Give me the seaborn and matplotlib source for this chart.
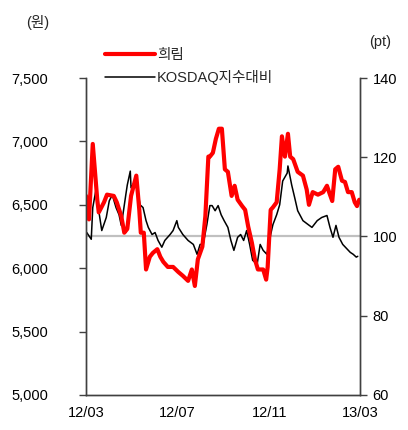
import pandas as pd
import matplotlib.pyplot as plt
import matplotlib.dates as mdates
from matplotlib.ticker import FuncFormatter
from matplotlib.lines import Line2D
import seaborn as sns

# 희림 share price (won)
heerim_dates = ['2012-03-01', '2012-03-05', '2012-03-10', '2012-03-16', '2012-03-18', '2012-03-25',
                '2012-03-29', '2012-04-07', '2012-04-11', '2012-04-17', '2012-04-21', '2012-04-25',
                '2012-04-30', '2012-05-07', '2012-05-11', '2012-05-13', '2012-05-17', '2012-05-20',
                '2012-05-25', '2012-05-29', '2012-06-04', '2012-06-08', '2012-06-12', '2012-06-18',
                '2012-06-25', '2012-07-02', '2012-07-08', '2012-07-15', '2012-07-20', '2012-07-24',
                '2012-07-28', '2012-08-03', '2012-08-07', '2012-08-11', '2012-08-13', '2012-08-17',
                '2012-08-21', '2012-08-25', '2012-08-29', '2012-09-02', '2012-09-06', '2012-09-11',
                '2012-09-15', '2012-09-19', '2012-09-25', '2012-09-29', '2012-10-03', '2012-10-08',
                '2012-10-12', '2012-10-16', '2012-10-23', '2012-10-27', '2012-10-29', '2012-11-02',
                '2012-11-05', '2012-11-10', '2012-11-14', '2012-11-17', '2012-11-21', '2012-11-25',
                '2012-11-28', '2012-12-02', '2012-12-08', '2012-12-15', '2012-12-20', '2012-12-23',
                '2012-12-28', '2013-01-04', '2013-01-11', '2013-01-16', '2013-01-20', '2013-01-23',
                '2013-01-27', '2013-01-31', '2013-02-05', '2013-02-09', '2013-02-13', '2013-02-18',
                '2013-02-22', '2013-02-25', '2013-02-28']
heerim_price = [6570, 6385, 6980, 6540, 6440, 6520, 6580, 6570, 6520, 6410, 6280, 6310,
                6570, 6730, 6460, 6280, 6280, 5990, 6090, 6120, 6150, 6090, 6050, 6010,
                6010, 5970, 5940, 5900, 5990, 5860, 6070, 6170, 6410, 6880, 6880, 6910,
                7020, 7100, 7100, 6780, 6760, 6570, 6650, 6540, 6490, 6460, 6330, 6200,
                6070, 5990, 5990, 5910, 6010, 6460, 6480, 6520, 6780, 7040, 6880, 7060,
                6880, 6860, 6760, 6730, 6620, 6500, 6600, 6580, 6600, 6650, 6580, 6530,
                6780, 6800, 6690, 6680, 6600, 6600, 6520, 6490, 6540]

# relative to KOSDAQ index (pt)
kosdaq_dates = ['2012-03-02', '2012-03-08', '2012-03-10', '2012-03-14', '2012-03-18', '2012-03-22',
                '2012-03-28', '2012-04-01', '2012-04-05', '2012-04-10', '2012-04-14', '2012-04-17',
                '2012-04-18', '2012-04-23', '2012-04-25', '2012-04-29', '2012-04-30', '2012-05-04',
                '2012-05-08', '2012-05-12', '2012-05-16', '2012-05-20', '2012-05-23', '2012-05-28',
                '2012-06-01', '2012-06-05', '2012-06-10', '2012-06-14', '2012-06-21', '2012-06-25',
                '2012-06-30', '2012-07-02', '2012-07-08', '2012-07-15', '2012-07-22', '2012-07-27',
                '2012-07-31', '2012-08-04', '2012-08-09', '2012-08-13', '2012-08-16', '2012-08-20',
                '2012-08-24', '2012-08-28', '2012-09-01', '2012-09-06', '2012-09-10', '2012-09-14',
                '2012-09-19', '2012-09-23', '2012-09-27', '2012-10-01', '2012-10-05', '2012-10-09',
                '2012-10-15', '2012-10-19', '2012-10-23', '2012-10-28', '2012-11-02', '2012-11-05',
                '2012-11-10', '2012-11-14', '2012-11-18', '2012-11-24', '2012-11-25', '2012-11-30',
                '2012-12-04', '2012-12-08', '2012-12-15', '2012-12-22', '2012-12-27', '2013-01-03',
                '2013-01-09', '2013-01-16', '2013-01-20', '2013-01-24', '2013-01-28', '2013-02-01',
                '2013-02-06', '2013-02-12', '2013-02-16', '2013-02-20', '2013-02-24', '2013-02-26']
kosdaq_rel = [101.0, 99.3, 107.3, 111.5, 106.5, 101.5, 104.8, 109.0, 110.5, 107.3, 105.5, 102.8,
              104.0, 110.5, 113.0, 116.5, 112.3, 113.5, 112.8, 108.0, 107.3, 104.0, 102.3, 100.5,
              101.0, 99.0, 97.3, 99.0, 100.5, 101.5, 104.0, 102.3, 100.5, 99.0, 98.0, 95.5,
              98.0, 98.0, 103.0, 107.8, 107.8, 106.5, 107.8, 105.5, 104.0, 102.3, 99.0, 96.5,
              99.8, 100.5, 99.0, 101.5, 98.0, 94.0, 93.0, 98.0, 96.5, 95.5, 100.5, 103.0,
              105.5, 108.0, 114.0, 116.0, 117.8, 113.0, 109.8, 106.5, 104.0, 103.0, 102.3, 104.0,
              104.8, 105.3, 102.3, 99.8, 102.8, 99.8, 98.0, 96.8, 96.0, 95.5, 94.8, 95.0]

x_ticks = ['2012-03-01', '2012-07-01', '2012-11-01', '2013-03-01']
left_ticks = [5000, 5500, 6000, 6500, 7000, 7500]
right_ticks = [60, 80, 100, 120, 140]

sns.set_theme(style='white')
plt.rcParams['font.family'] = ['Liberation Sans', 'Noto Sans CJK KR', 'DejaVu Sans']

fig = plt.figure(figsize=(4.08, 4.30), dpi=100)
ax = fig.add_axes([86 / 408, 1 - 395 / 430, 274 / 408, 317 / 430])
ax2 = ax.twinx()

sns.lineplot(x=pd.to_datetime(heerim_dates), y=heerim_price, ax=ax, color='#ff0000',
             linewidth=3.0, legend=False)
ax2.axhline(100, color='#c0c0c0', linewidth=1.6, zorder=1)
sns.lineplot(x=pd.to_datetime(kosdaq_dates), y=kosdaq_rel, ax=ax2, color='black',
             linewidth=1.1, legend=False)
ax.set_zorder(ax2.get_zorder() + 1)
ax.patch.set_visible(False)

ax.set_xlim(pd.Timestamp('2012-03-01'), pd.Timestamp('2013-03-01'))
ax.set_ylim(5000, 7500)
ax2.set_ylim(60, 140)
ax.set_xticks(pd.to_datetime(x_ticks))
ax.xaxis.set_major_formatter(mdates.DateFormatter('%y/%m'))
ax.set_yticks(left_ticks)
ax.yaxis.set_major_formatter(FuncFormatter(lambda v, p: f'{int(v):,}'))
ax2.set_yticks(right_ticks)
ax.set_xlabel('')
ax.set_ylabel('')
ax2.set_ylabel('')

spine_col = '#404040'
for a in (ax, ax2):
    for s in a.spines.values():
        s.set_color(spine_col)
        s.set_linewidth(1.0)
    a.spines['top'].set_visible(False)
    a.grid(False)
ax.tick_params(axis='x', direction='in', length=6, width=1, color=spine_col,
               labelsize=10.5, pad=8, labelcolor='black')
ax.tick_params(axis='y', direction='out', length=5, width=1, color=spine_col,
               labelsize=10.5, pad=22, labelcolor='black', left=True)
ax2.tick_params(axis='y', direction='out', length=5, width=1, color=spine_col,
                labelsize=10.5, pad=4, labelcolor='black', right=True)

fig.text(38 / 408, 1 - 22 / 430, '(원)', ha='center', va='center', fontsize=10.5)
fig.text(380 / 408, 1 - 42 / 430, '(pt)', ha='center', va='center', fontsize=10.5)

handles = [Line2D([], [], color='#ff0000', linewidth=3.0),
           Line2D([], [], color='black', linewidth=1.1)]
fig.legend(handles, ['희림', 'KOSDAQ지수대비'], loc='upper left',
           bbox_to_anchor=(105 / 408, 1 - 48 / 430), frameon=False, fontsize=10.5,
           handlelength=3.4, handletextpad=0.15, labelspacing=0.55,
           borderpad=0, borderaxespad=0)

fig.savefig('out.png', dpi=100)
